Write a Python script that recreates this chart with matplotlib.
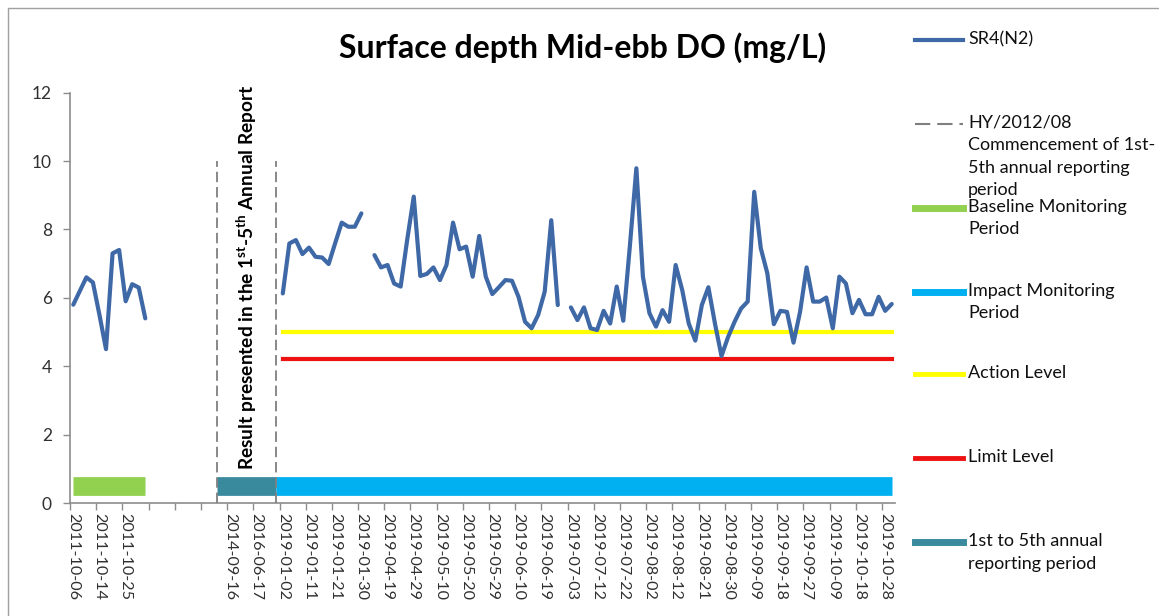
import matplotlib
matplotlib.use("Agg")
import matplotlib.pyplot as plt
from matplotlib.lines import Line2D
from matplotlib.patches import Rectangle
import numpy as np

# DO readings (mg/L), one per monitoring day on a category axis, None = no data
base_do = [5.8, 6.2, 6.6, 6.45, 5.5, 4.5, 7.3, 7.4, 5.9, 6.4, 6.3, 5.4]
jan_do = [6.13, 7.59, 7.69, 7.28, 7.47, 7.2, 7.18, 6.99, 7.6, 8.2, 8.08, 8.08, 8.47]
apr_do = [7.25, 6.89, 6.96, 6.42, 6.33, 7.7, 8.96, 6.64, 6.7, 6.89, 6.52, 6.96, 8.2,
          7.42, 7.5, 6.62, 7.81, 6.62, 6.11, 6.31, 6.52, 6.5, 6.03, 5.3, 5.11, 5.5,
          6.18, 8.27, 5.79]
jul_do = [5.72, 5.35, 5.72, 5.11, 5.06, 5.62, 5.25, 6.33, 5.33, 7.5, 9.79, 6.62, 5.55,
          5.16, 5.64, 5.3, 6.96, 6.23, 5.25, 4.75, 5.79, 6.31, 5.25, 4.3, 4.85, 5.3,
          5.69, 5.89, 9.1, 7.45, 6.72, 5.23, 5.62, 5.59, 4.69, 5.59, 6.89, 5.89, 5.89,
          6.01, 5.11, 6.62, 6.42, 5.55, 5.94, 5.52, 5.52, 6.03, 5.62, 5.82]
do_values = base_do + [None] * 20 + jan_do + [None] + apr_do + [None] + jul_do

# every 4th category carries a label
tick_labels = ["2011-10-06", "2011-10-14", "2011-10-25", "", "", "",
               "2014-09-16", "2016-06-17", "2019-01-02", "2019-01-11", "2019-01-21",
               "2019-01-30", "2019-04-19", "2019-04-29", "2019-05-10", "2019-05-20",
               "2019-05-29", "2019-06-10", "2019-06-19", "2019-07-03", "2019-07-12",
               "2019-07-22", "2019-08-02", "2019-08-12", "2019-08-21", "2019-08-30",
               "2019-09-09", "2019-09-18", "2019-09-27", "2019-10-09", "2019-10-18",
               "2019-10-28"]

# periods as (first category, last category)
baseline_period = (0, 11)
annual_period = (22, 31)
impact_period = (31, 125)
level_span = (32, 125)
action_level = 5.0
limit_level = 4.2

c_line = "#3F68A6"
c_green = "#92D050"
c_blue = "#00B0F0"
c_teal = "#3A8A9E"
c_yellow = "#FFFF00"
c_red = "#EE1111"
c_dash = "#7F7F7F"
c_axis = "#8C8C8C"

plt.rcParams["font.family"] = ["Lato", "DejaVu Sans"]
plt.rcParams["mathtext.fontset"] = "custom"
plt.rcParams["mathtext.rm"] = "Lato"
plt.rcParams["mathtext.bf"] = "Lato:bold"
plt.rcParams["lines.scale_dashes"] = False

W, H = 1159, 616
fig = plt.figure(figsize=(W / 100, H / 100), dpi=100)
ax = fig.add_axes([70 / W, 1 - 503 / H, (895 - 70) / W, (503 - 92.7) / H])

x = np.arange(len(do_values))
y = np.array([np.nan if v is None else v for v in do_values], dtype=float)

# period bars
for (a, b), col in [(baseline_period, c_green), (annual_period, c_teal), (impact_period, c_blue)]:
    ax.plot([a, b], [0.5, 0.5], color=col, lw=13.5, solid_capstyle="butt", zorder=2)

# dashed markers of the annual reporting period
for xv in annual_period:
    ax.plot([xv, xv], [0, 10], color=c_dash, lw=1.3, dashes=(7.5, 3.5), zorder=3)

ax.plot(level_span, [action_level] * 2, color=c_yellow, lw=3, zorder=3)
ax.plot(level_span, [limit_level] * 2, color=c_red, lw=3, zorder=3)
ax.plot(x, y, color=c_line, lw=3, solid_joinstyle="round", solid_capstyle="round", zorder=4)

ax.text(26.5, 6.6, r"Result presented in the 1$^{\mathbf{st}}$-5$^{\mathbf{th}}$ Annual Report",
        rotation=90, ha="center", va="center", fontsize=13.8, fontweight="bold")

ax.set_xlim(-0.5, 125.5)
ax.set_ylim(0, 12)
ax.set_yticks(range(0, 13, 2))
ax.set_xticks(np.arange(0, 125, 4))
ax.set_xticklabels(tick_labels, rotation=270, ha="center", va="top")
ax.set_xticks(np.arange(-0.5, 124, 4), minor=True)
ax.tick_params(axis="x", which="major", length=0, pad=7, labelsize=11.6, labelcolor="#303030")
ax.tick_params(axis="x", which="minor", length=5, width=1, color=c_axis, direction="out")
ax.tick_params(axis="y", length=5, width=1, color=c_axis, pad=8, labelsize=12.5, labelcolor="#303030")
for s in ["top", "right"]:
    ax.spines[s].set_visible(False)
for s in ["left", "bottom"]:
    ax.spines[s].set_color(c_axis)
    ax.spines[s].set_linewidth(1.2)

fig.text(583 / W, 1 - 48 / H, "Surface depth Mid-ebb DO (mg/L)", ha="center", va="center",
         fontsize=23, fontweight="bold")

# hand-placed legend on the right
legend_rows = [
    ("SR4(N2)", dict(color=c_line, lw=3)),
    ("HY/2012/08\nCommencement of 1st-\n5th annual reporting\nperiod", dict(color=c_dash, lw=1.5, dashes=(11, 5))),
    ("Baseline Monitoring\nPeriod", dict(color=c_green, lw=5)),
    ("Impact Monitoring\nPeriod", dict(color=c_blue, lw=5)),
    ("Action Level", dict(color=c_yellow, lw=3.5)),
    ("Limit Level", dict(color=c_red, lw=3.5)),
    ("1st to 5th annual\nreporting period", dict(color=c_teal, lw=5)),
]
row_y = [40, 124, 208, 292, 374, 458, 542]
for (label, style), py in zip(legend_rows, row_y):
    fy = 1 - py / H
    fig.add_artist(Line2D([915 / W, 963 / W], [fy, fy], transform=fig.transFigure, **style))
    fig.text(968 / W, 1 - (py - 9) / H, label, ha="left", va="top", fontsize=13,
             linespacing=1.5, color="#101010")

fig.add_artist(Rectangle((8 / W, -0.05), 1.1, 1.05 - 8 / H, transform=fig.transFigure,
                         fill=False, edgecolor="#A0A0A0", lw=1))

fig.savefig("out.png", dpi=100)
